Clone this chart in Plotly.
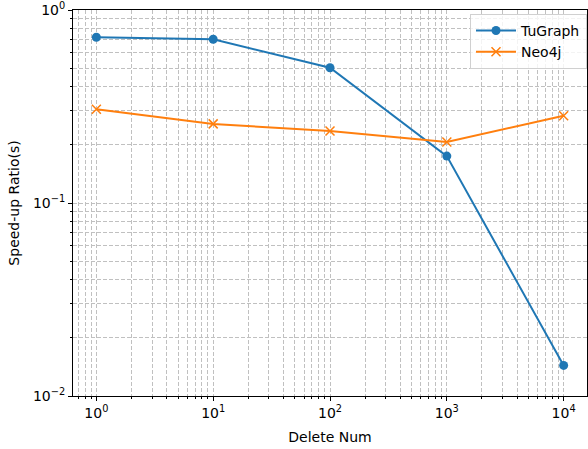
import plotly.graph_objects as go

delete_num = [1, 10, 100, 1000, 10000]
tugraph = [0.722, 0.705, 0.502, 0.175, 0.0144]
neo4j = [0.306, 0.257, 0.236, 0.207, 0.283]

x_tick_vals = [1, 10, 100, 1000, 10000]
x_tick_text = ["10<sup>0</sup>", "10<sup>1</sup>", "10<sup>2</sup>", "10<sup>3</sup>", "10<sup>4</sup>"]
y_tick_vals = [0.01, 0.1, 1]
y_tick_text = ["10<sup>\u22122</sup>", "10<sup>\u22121</sup>", "10<sup>0</sup>"]

x_minor = [m * 10 ** d for d in range(-1, 5) for m in range(2, 10)]
y_minor = [m * 10 ** d for d in range(-3, 1) for m in range(2, 10)]

font = "DejaVu Sans"
grid_col = "#c0c0c0"
dash = "4px,2px"

fig = go.Figure()
fig.add_trace(go.Scatter(
    x=delete_num, y=tugraph, name="TuGraph", mode="lines+markers",
    line=dict(color="#1f77b4", width=2),
    marker=dict(symbol="circle", size=9, color="#1f77b4"),
))
fig.add_trace(go.Scatter(
    x=delete_num, y=neo4j, name="Neo4j", mode="lines+markers",
    line=dict(color="#ff7f0e", width=2),
    marker=dict(symbol="x-thin", size=9, color="#ff7f0e",
                line=dict(color="#ff7f0e", width=1.5)),
))

axis_common = dict(
    type="log", showline=True, linecolor="black", linewidth=1, mirror=True,
    ticks="outside", ticklen=4, tickwidth=1, tickcolor="black",
    showgrid=True, gridcolor=grid_col, griddash=dash, gridwidth=1,
    zeroline=False, automargin=False,
    tickfont=dict(family=font, size=14, color="black"),
)

fig.update_xaxes(
    **axis_common, range=[-0.2, 4.2], tickmode="array",
    tickvals=x_tick_vals, ticktext=x_tick_text,
    minor=dict(tickmode="array", tickvals=x_minor, ticks="outside", ticklen=2,
               tickcolor="black", showgrid=True, gridcolor=grid_col,
               griddash=dash, gridwidth=1),
    title=dict(text="Delete Num", font=dict(family=font, size=14, color="black"), standoff=12),
)
fig.update_yaxes(
    **axis_common, range=[-2, 0], tickmode="array",
    tickvals=y_tick_vals, ticktext=y_tick_text,
    minor=dict(tickmode="array", tickvals=y_minor, ticks="outside", ticklen=2,
               tickcolor="black", showgrid=True, gridcolor=grid_col,
               griddash=dash, gridwidth=1),
    title=dict(text="Speed-up Ratio(s)", font=dict(family=font, size=14, color="black"), standoff=10),
)

fig.update_layout(
    width=588, height=449,
    margin=dict(l=73, r=1, t=10, b=53, autoexpand=False),
    plot_bgcolor="white", paper_bgcolor="white",
    font=dict(family=font, size=14, color="black"),
    legend=dict(x=1.0, y=0.99, xanchor="right", yanchor="top",
                bgcolor="rgba(255,255,255,0.8)", bordercolor="#d0d0d0", borderwidth=1,
                itemwidth=40, tracegroupgap=0,
                font=dict(family=font, size=14, color="black")),
    showlegend=True,
)

fig.write_html("out.html", config={"displayModeBar": False},
               post_script="document.body.style.margin='0';document.body.style.overflow='hidden';")
